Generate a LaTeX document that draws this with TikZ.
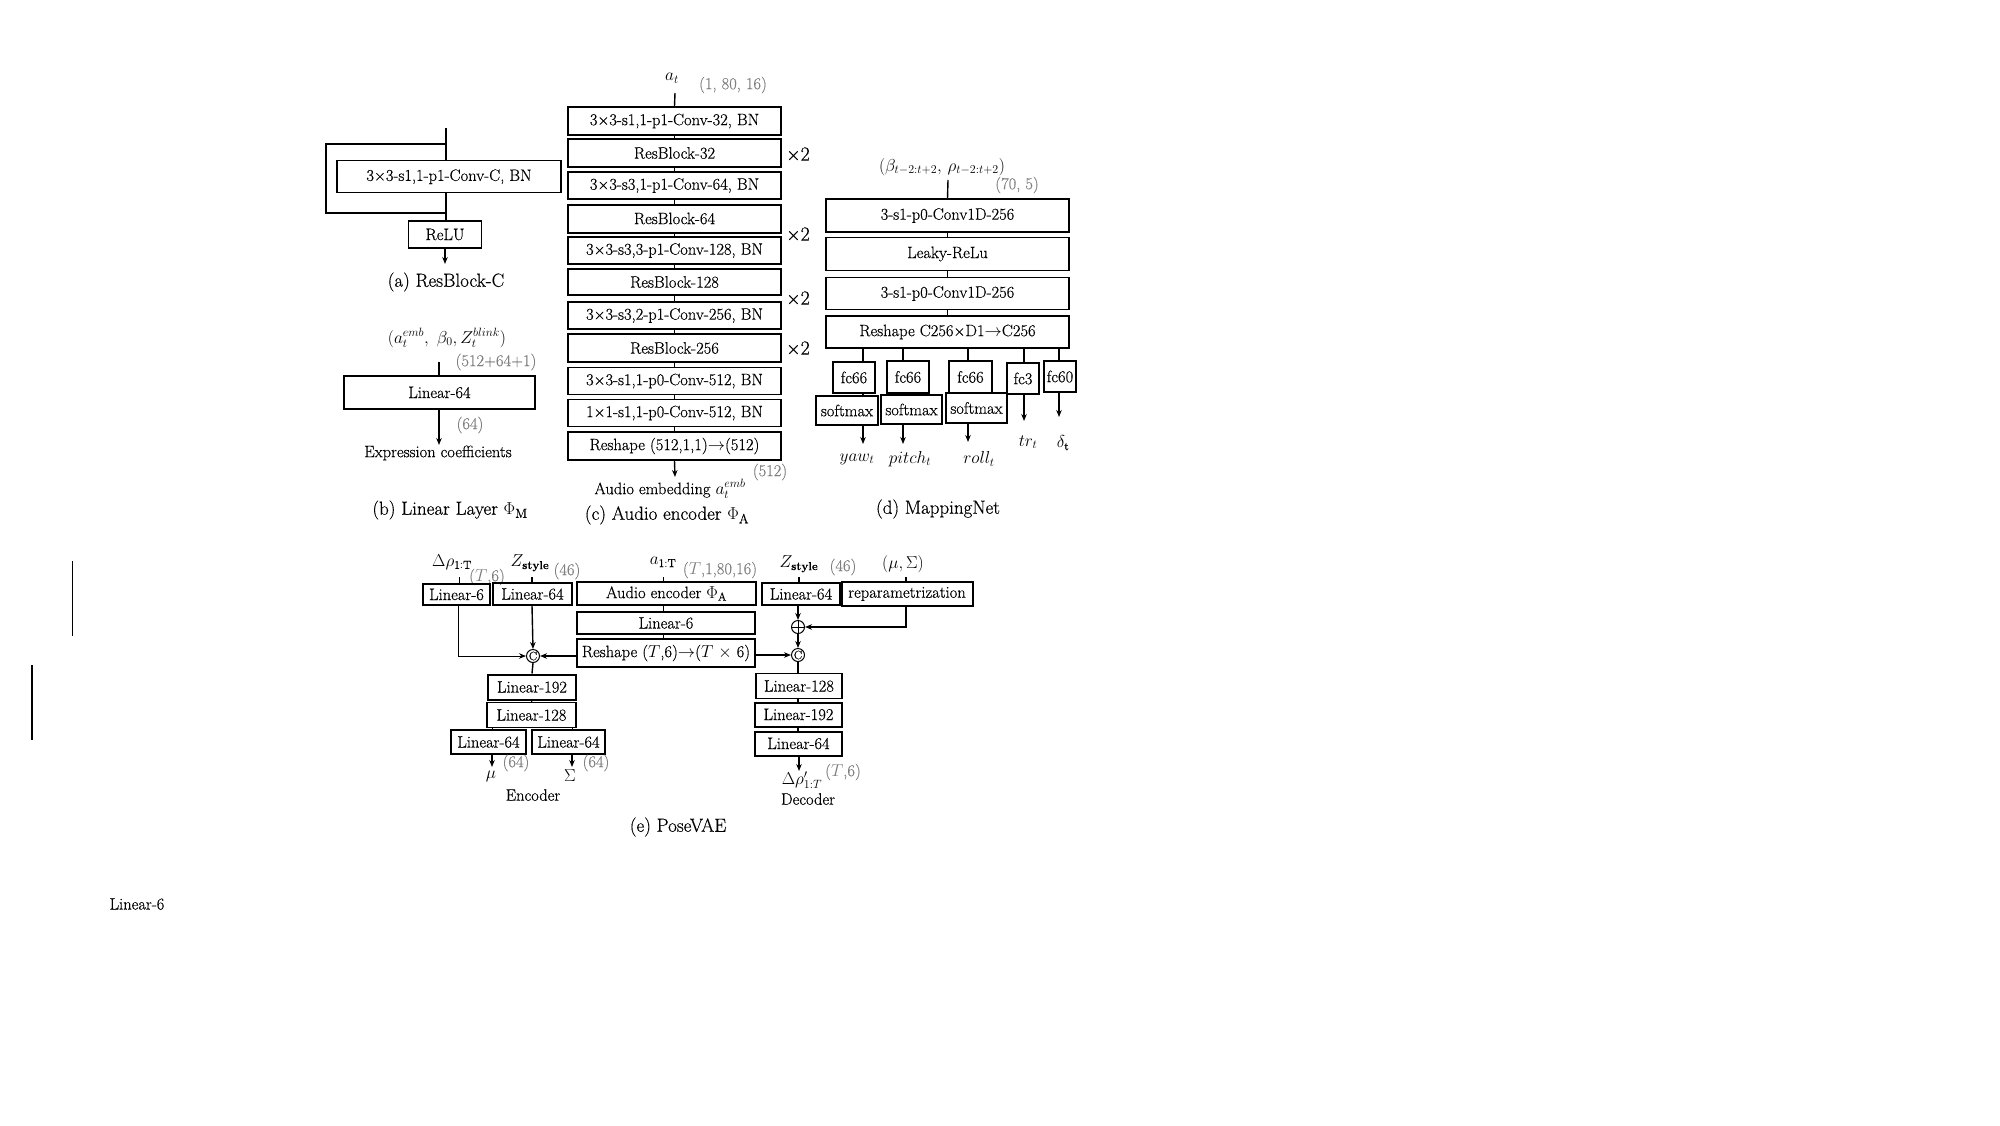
\documentclass[tikz,border=0pt]{standalone}
\usepackage{fontspec}
\setmainfont{Latin Modern Roman}[FakeBold=0.4]
\usetikzlibrary{arrows.meta}
\definecolor{glab}{RGB}{128,128,128}
\newcommand{\myfs}{\fontsize{16.5}{19}\selectfont}
\newcommand{\mycap}{\fontsize{19}{22}\selectfont}
\newcommand{\mybig}{\fontsize{20}{22}\selectfont}
\begin{document}
\begin{tikzpicture}[x=1pt,y=-1pt,
  box/.style={draw,line width=1.1pt,inner sep=0pt,font=\myfs},
  tbox/.style={box,line width=2pt},
  lab/.style={inner sep=0pt,font=\myfs},
  gl/.style={inner sep=0pt,font=\myfs,text=glab},
  captxt/.style={inner sep=0pt,font=\mycap},
  con/.style={line width=1.4pt},
  thn/.style={line width=1pt},
  arr/.style={con,-{Stealth[length=7pt,width=5.5pt]}},
  ccirc/.style={circle,draw,line width=1pt,inner sep=0pt,minimum size=13pt,font=\fontsize{12}{12}\selectfont}]
\useasboundingbox (0,0) rectangle (2000,1125);
\fill[white] (0,0) rectangle (2000,1125);

% ---------- (a) ResBlock-C ----------
\coordinate (atop) at (446,128);
\coordinate (askT) at (326,144);
\coordinate (askB) at (326,213);
\coordinate (aout) at (445,264);
\node[box,minimum width=224,minimum height=32] (aconv) at (449,176.7) {3×3-s1,1-p1-Conv-C, BN};
\node[box,minimum width=73,minimum height=27] (arelu) at (445,234.5) {ReLU};
\draw[con] (atop) -- (atop |- aconv.north);
\draw[con] (atop |- aconv.south) -- (atop |- arelu.north);
\draw[con] (atop |- askT) -- (askT) -- (askB) -- (atop |- askB);
\draw[arr] (arelu.south) -- (aout);
\node[captxt] (acap) at (446,282) {(a) ResBlock-C};

% ---------- (b) Linear layer ----------
\node[lab] (bin) at (447,338) {$(a_t^{emb},\ \beta_0, Z_t^{blink})$};
\coordinate (btop) at (439,362);
\coordinate (bout) at (439,445);
\node[gl] (bdim) at (496,362) {(512+64+1)};
\node[box,minimum width=191,minimum height=33] (blin) at (439.5,392.5) {Linear-64};
\draw[con] (btop) -- (btop |- blin.north);
\draw[arr] (btop |- blin.south) -- (bout);
\node[gl] (bdim2) at (470,425) {(64)};
\node[lab] (bexp) at (438,453) {Expression coefficients};
\node[captxt] (bcap) at (450,510) {(b) Linear Layer $\Phi_{\mathrm{M}}$};

% ---------- (c) Audio encoder ----------
\node[lab] (cin) at (672,78) {$a_t$};
\coordinate (ctop) at (675,93);
\node[gl] (cdim) at (733,85) {(1, 80, 16)};
\node[tbox,minimum width=213,minimum height=28] (c1) at (674.5,121) {3×3-s1,1-p1-Conv-32, BN};
\node[box,minimum width=213,minimum height=28] (c2) at (674.5,153) {ResBlock-32};
\node[box,minimum width=213,minimum height=27] (c3) at (674.5,185.5) {3×3-s3,1-p1-Conv-64, BN};
\node[tbox,minimum width=213,minimum height=28] (c4) at (674.5,218.5) {ResBlock-64};
\node[box,minimum width=213,minimum height=27] (c5) at (674.5,250.5) {3×3-s3,3-p1-Conv-128, BN};
\node[box,minimum width=213,minimum height=26] (c6) at (674.5,282) {ResBlock-128};
\node[box,minimum width=213,minimum height=27] (c7) at (674.5,315.5) {3×3-s3,2-p1-Conv-256, BN};
\node[box,minimum width=213,minimum height=28] (c8) at (674.5,348) {ResBlock-256};
\node[box,minimum width=213,minimum height=27] (c9) at (674.5,381) {3×3-s1,1-p0-Conv-512, BN};
\node[box,minimum width=213,minimum height=27] (c10) at (674.5,413) {1×1-s1,1-p0-Conv-512, BN};
\node[tbox,minimum width=213,minimum height=28] (c11) at (674.5,446) {Reshape (512,1,1)$\rightarrow$(512)};
\coordinate (cout) at (675,477);
\draw[con] (ctop) -- (c1.north);
\foreach \a/\b in {c1/c2,c2/c3,c3/c4,c4/c5,c5/c6,c6/c7,c7/c8,c8/c9,c9/c10,c10/c11}
  \draw[con] (\a.south) -- (\b.north);
\draw[arr] (c11.south) -- (cout);
\node[inner sep=0pt,font=\mybig] (x1) at (798,154) {×2};
\node[inner sep=0pt,font=\mybig] (x2) at (798,234) {×2};
\node[inner sep=0pt,font=\mybig] (x3) at (798,298) {×2};
\node[inner sep=0pt,font=\mybig] (x4) at (798,348) {×2};
\node[gl] (cdim2) at (770,472) {(512)};
\node[lab] (cemb) at (670,489) {Audio embedding $a_t^{emb}$};
\node[captxt] (ccap) at (667,515) {(c) Audio encoder $\Phi_{\mathrm{A}}$};

% ---------- (d) MappingNet ----------
\node[lab] (din) at (942,167) {$(\beta_{t-2:t+2},\,\rho_{t-2:t+2})$};
\coordinate (dtop) at (948,180);
\node[gl] (ddim) at (1017,185) {(70, 5)};
\node[box,minimum width=243,minimum height=33] (d1) at (947.5,215.5) {3-s1-p0-Conv1D-256};
\node[box,minimum width=243,minimum height=33] (d2) at (947.5,254) {Leaky-ReLu};
\node[box,minimum width=243,minimum height=32] (d3) at (947.5,293.5) {3-s1-p0-Conv1D-256};
\node[box,minimum width=243,minimum height=32] (d4) at (947.5,332) {Reshape C256×D1$\rightarrow$C256};
\draw[con] (dtop) -- (d1.north);
\draw[con] (d1.south) -- (d2.north);
\draw[con] (d2.south) -- (d3.north);
\draw[con] (d3.south) -- (d4.north);
\node[box,minimum width=42,minimum height=31] (fa) at (854,377.5) {fc66};
\node[tbox,minimum width=42,minimum height=32] (fb) at (908,377) {fc66};
\node[box,minimum width=43,minimum height=32] (fc) at (970.5,377) {fc66};
\node[box,minimum width=32,minimum height=31] (fd) at (1023,378.5) {fc3};
\node[tbox,minimum width=32,minimum height=31] (fe) at (1060,376.5) {fc60};
\node[box,minimum width=62,minimum height=29] (sa) at (847,410.5) {softmax};
\node[tbox,minimum width=61,minimum height=29] (sb) at (911.5,409.5) {softmax};
\node[box,minimum width=61,minimum height=30] (sc) at (976.5,408) {softmax};
\coordinate (ba) at (863,348);
\coordinate (bb) at (903,348);
\coordinate (bc) at (968,348);
\coordinate (bd) at (1024,348);
\coordinate (be) at (1059,348);
\coordinate (oa) at (863,444);
\coordinate (ob) at (903,444);
\coordinate (oc) at (968,442);
\coordinate (od) at (1024,421);
\coordinate (oe) at (1059,417);
\draw[con] (ba) -- (ba |- fa.north);
\draw[con] (bb) -- (bb |- fb.north);
\draw[con] (bc) -- (bc |- fc.north);
\draw[con] (bd) -- (bd |- fd.north);
\draw[con] (be) -- (be |- fe.north);
\draw[con] (ba |- fa.south) -- (ba |- sa.north);
\draw[con] (bb |- fb.south) -- (bb |- sb.north);
\draw[con] (bc |- fc.south) -- (bc |- sc.north);
\draw[arr] (ba |- sa.south) -- (oa);
\draw[arr] (bb |- sb.south) -- (ob);
\draw[arr] (bc |- sc.south) -- (oc);
\draw[arr] (bd |- fd.south) -- (od);
\draw[arr] (be |- fe.south) -- (oe);
\node[lab] (ya) at (857,459) {$yaw_t$};
\node[lab] (yb) at (910,459) {$pitch_t$};
\node[lab] (yc) at (979,459) {$roll_t$};
\node[lab] (yd) at (1028,442) {$tr_t$};
\node[lab] (ye) at (1063,443) {$\delta_{\mathrm{t}}$};
\node[captxt] (dcap) at (938,509) {(d) MappingNet};

% ---------- (e) PoseVAE ----------
\node[lab] (erho) at (452,562) {$\Delta\rho_{\mathrm{1:T}}$};
\node[gl] (erhod) at (487,577) {($T$,6)};
\coordinate (erhot) at (459,577);
\node[tbox,minimum width=67,minimum height=21] (el6) at (456.5,594.5) {Linear-6};
\node[lab] (ez) at (530,563) {$Z_{\mathbf{style}}$};
\node[gl] (ezd) at (567,571) {(46)};
\coordinate (ezt) at (532,577);
\node[box,minimum width=79,minimum height=22] (el64) at (532.5,594) {Linear-64};
\draw[thn] (erhot) -- (erhot |- el6.north);
\draw[con] (ezt) -- (ezt |- el64.north);
\node[ccirc] (ce) at (533,656) {C};
\draw[arr] (ezt |- el64.south) -- (ce.north);
\coordinate (el6b) at (458,605);
\draw[thn,-{Stealth[length=7pt,width=5.5pt]}] (el6b) |- (ce.west);
\node[lab] (ea) at (663,562) {$a_{\mathrm{1:T}}$};
\node[gl] (ead) at (720,570) {($T$,1,80,16)};
\coordinate (eat) at (663,577);
\node[tbox,minimum width=179,minimum height=23] (eae) at (666.5,593.5) {Audio encoder $\Phi_{\mathrm{A}}$};
\node[box,minimum width=178,minimum height=22] (eml6) at (666,623) {Linear-6};
\node[box,minimum width=178,minimum height=28] (ersh) at (666,653) {Reshape ($T$,6)$\rightarrow$($T$ $\times$ 6)};
\draw[thn] (eat) -- (eat |- eae.north);
\draw[thn] (eat |- eae.south) -- (eat |- eml6.north);
\draw[thn] (eat |- eml6.south) -- (eat |- ersh.north);
\draw[arr] (ersh.west |- ce) -- (ce.east);
\node[tbox,minimum width=88,minimum height=25] (e192) at (532,687) {Linear-192};
\node[box,minimum width=89,minimum height=25] (e128) at (531.5,715) {Linear-128};
\node[box,minimum width=75,minimum height=24] (e64a) at (488.5,742) {Linear-64};
\node[tbox,minimum width=73,minimum height=24] (e64b) at (568.5,742) {Linear-64};
\draw[con] (ce.south) -- (e192.north);
\draw[thn] (e192.south) -- (e128.north);
\coordinate (emu) at (492,767);
\coordinate (esig) at (572,767);
\draw[thn] (emu |- e128.south) -- (emu |- e64a.north);
\draw[thn] (esig |- e128.south) -- (esig |- e64b.north);
\draw[arr] (emu |- e64a.south) -- (emu);
\draw[arr] (esig |- e64b.south) -- (esig);
\node[lab] (emul) at (491,776) {$\mu$};
\node[gl] (emud) at (516,763) {(64)};
\node[lab] (esigl) at (570,776) {$\Sigma$};
\node[gl] (esigd) at (596,763) {(64)};
\node[lab] (eenc) at (533,795) {Encoder};
\node[lab] (dz) at (799,564) {$Z_{\mathbf{style}}$};
\node[gl] (dzd) at (843,567) {(46)};
\coordinate (dzt) at (799,577);
\node[tbox,minimum width=78,minimum height=22] (dl64) at (801,594) {Linear-64};
\node[lab] (dms) at (903,564) {$(\mu,\Sigma)$};
\coordinate (dmst) at (906,577);
\node[tbox,minimum width=131,minimum height=24] (drep) at (907,594) {reparametrization};
\draw[con] (dzt) -- (dzt |- dl64.north);
\draw[con] (dmst) -- (dmst |- drep.north);
\node[circle,draw,line width=1pt,inner sep=0pt,minimum size=13pt] (dplus) at (798,627) {};
\draw[thn] (dplus.north) -- (dplus.south) (dplus.west) -- (dplus.east);
\node[ccirc] (dc) at (798,655) {C};
\draw[arr] (dplus |- dl64.south) -- (dplus.north);
\draw[arr] (dmst |- drep.south) |- (dplus.east);
\draw[arr] (dplus.south) -- (dc.north);
\draw[arr] (ersh.east |- dc) -- (dc.west);
\node[box,minimum width=86,minimum height=25] (d128) at (799,686) {Linear-128};
\node[tbox,minimum width=87,minimum height=24] (d192) at (798.5,714.5) {Linear-192};
\node[tbox,minimum width=87,minimum height=24] (d64) at (798.5,743.5) {Linear-64};
\draw[con] (dc.south) -- (dc |- d128.north);
\draw[con] (dc |- d128.south) -- (dc |- d192.north);
\draw[con] (dc |- d192.south) -- (dc |- d64.north);
\coordinate (dout) at (799,771);
\draw[arr] (dout |- d64.south) -- (dout);
\node[lab] (drho) at (802,780) {$\Delta\rho'_{1:T}$};
\node[gl] (drhod) at (843,772) {($T$,6)};
\node[lab] (ddec) at (808,799) {Decoder};
\node[captxt] (ecap) at (678,827) {(e) PoseVAE};

% ---------- stray marks ----------
\coordinate (s1a) at (72,561);
\coordinate (s1b) at (72,636);
\coordinate (s2a) at (32,665);
\coordinate (s2b) at (32,740);
\draw[thn] (s1a) -- (s1b);
\draw[line width=2.2pt] (s2a) -- (s2b);
\node[lab] (stray) at (137,904) {Linear-6};
\end{tikzpicture}
\end{document}
